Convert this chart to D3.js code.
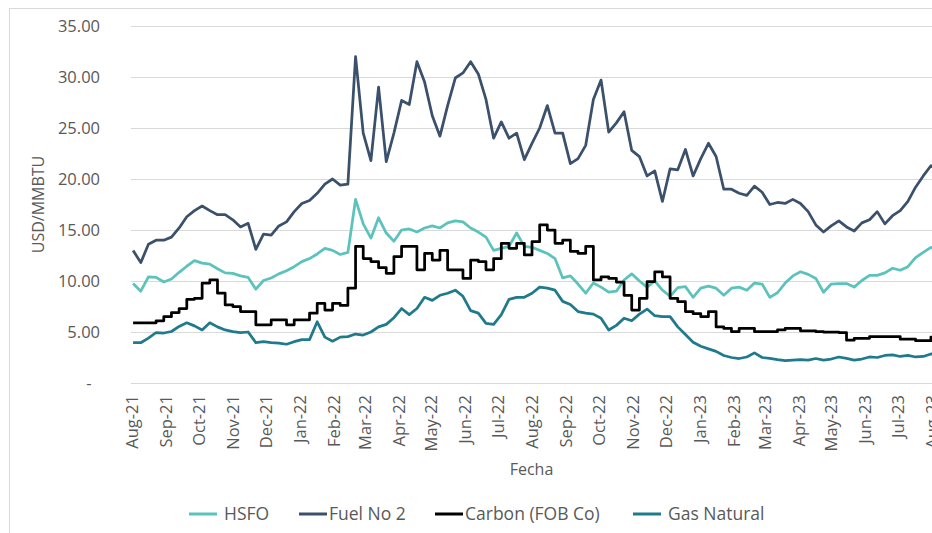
<!DOCTYPE html>
<html>
<head>
<meta charset="utf-8">
<script src="https://cdn.jsdelivr.net/npm/d3@7"></script>
<style>
    body { margin: 0; background: #fff; }
    text { font-family: "Open Sans", sans-serif; fill: #595959; }
</style>
</head>
<body>
<svg id="chart" width="932" height="533"></svg>
<script>
// weekly readings, first week starts Mon 2 Aug 2021
var firstWeek = new Date(2021, 7, 2);
var lastWeek = new Date(2023, 7, 7);

var hsfo = [
    9.75, 9.0, 10.4, 10.35, 9.9, 10.2, 10.85, 11.45, 12.0, 11.75,
    11.65, 11.2, 10.8, 10.75, 10.5, 10.35, 9.2, 10.05, 10.3, 10.7,
    11.0, 11.4, 11.9, 12.2, 12.65, 13.2, 13.0, 12.6, 12.8, 18.0,
    15.6, 14.2, 16.2, 14.7, 13.9, 15.0, 15.1, 14.8, 15.2, 15.4,
    15.2, 15.7, 15.9, 15.8, 15.2, 14.8, 14.3, 13.0, 13.2, 13.4,
    14.7, 13.4, 13.3, 13.0, 12.7, 12.2, 10.3, 10.5, 9.7, 8.8,
    9.8, 9.4, 8.9, 9.0, 10.1, 10.7, 10.0, 9.4, 10.0, 9.1,
    8.5, 9.35, 9.45, 8.4, 9.3, 9.5, 9.3, 8.6, 9.3, 9.4,
    9.1, 9.8, 9.7, 8.4, 8.85, 9.8, 10.5, 10.9, 10.65, 10.25,
    8.9, 9.7, 9.75, 9.75, 9.4, 10.05, 10.55, 10.55, 10.8, 11.25,
    11.05, 11.4, 12.3, 12.8, 13.3, 12.9
];
var fuelNo2 = [
    13.0, 11.8, 13.6, 14.0, 14.0, 14.3, 15.2, 16.3, 16.9, 17.35,
    16.9, 16.5, 16.5, 16.0, 15.3, 15.65, 13.1, 14.6, 14.5, 15.4,
    15.8, 16.8, 17.6, 17.9, 18.6, 19.5, 20.0, 19.4, 19.5, 32.0,
    24.5, 21.8, 29.0, 21.7, 24.5, 27.7, 27.3, 31.5, 29.5, 26.2,
    24.2, 27.2, 29.9, 30.4, 31.5, 30.3, 27.8, 24.0, 25.6, 24.0,
    24.5, 21.9, 23.5, 25.0, 27.2, 24.5, 24.5, 21.5, 22.0, 23.3,
    27.8, 29.7, 24.6, 25.5, 26.6, 22.8, 22.2, 20.3, 20.8, 17.8,
    21.0, 20.9, 22.9, 20.3, 22.0, 23.5, 22.2, 19.0, 19.0, 18.6,
    18.4, 19.3, 18.7, 17.5, 17.7, 17.6, 18.0, 17.6, 16.8, 15.5,
    14.8, 15.4, 15.9, 15.3, 14.9, 15.7, 16.0, 16.8, 15.6, 16.4,
    16.9, 17.8, 19.2, 20.3, 21.3, 20.9
];
var carbon = [
    5.9, 5.9, 5.9, 6.1, 6.5, 6.9, 7.3, 8.2, 8.3, 9.8,
    10.1, 8.8, 7.65, 7.5, 7.0, 7.0, 5.7, 5.7, 6.2, 6.2,
    5.7, 6.2, 6.2, 6.85, 7.8, 7.15, 7.8, 7.6, 9.3, 13.4,
    12.2, 11.9, 11.3, 10.75, 12.4, 13.4, 13.4, 11.1, 12.7, 12.05,
    13.0, 11.1, 11.1, 10.25, 12.05, 11.9, 11.1, 12.2, 13.7, 13.2,
    13.7, 12.55, 13.85, 15.5, 15.0, 13.7, 14.0, 12.9, 12.7, 13.4,
    10.1, 10.4, 10.25, 9.9, 8.6, 7.15, 8.3, 9.95, 10.9, 10.4,
    8.3, 7.97, 7.0, 6.8, 6.5, 7.0, 5.5, 5.35, 5.03, 5.36,
    5.36, 5.03, 5.03, 5.03, 5.2, 5.36, 5.36, 5.1, 5.1, 5.03,
    5.0, 5.0, 4.95, 4.2, 4.38, 4.38, 4.54, 4.54, 4.54, 4.54,
    4.3, 4.3, 4.15, 4.15, 4.5, 4.5
];
var gasNatural = [
    3.95, 3.95, 4.4, 4.95, 4.9, 5.05, 5.55, 5.9, 5.6, 5.2,
    5.9, 5.5, 5.2, 5.03, 4.95, 5.0, 3.95, 4.05, 3.95, 3.9,
    3.8, 4.05, 4.25, 4.25, 6.0, 4.5, 4.1, 4.5, 4.55, 4.8,
    4.7, 5.0, 5.5, 5.75, 6.4, 7.3, 6.7, 7.3, 8.4, 8.1,
    8.6, 8.8, 9.1, 8.5, 7.1, 6.85, 5.85, 5.75, 6.7, 8.2,
    8.4, 8.4, 8.8, 9.4, 9.3, 9.1, 8.0, 7.7, 7.0, 6.85,
    6.75, 6.35, 5.2, 5.65, 6.35, 6.1, 6.75, 7.25, 6.6, 6.5,
    6.5, 5.5, 4.75, 4.0, 3.6, 3.35, 3.1, 2.7, 2.5, 2.4,
    2.55, 2.95, 2.5, 2.42, 2.3, 2.2, 2.25, 2.3, 2.25, 2.4,
    2.25, 2.35, 2.55, 2.42, 2.25, 2.35, 2.55, 2.5, 2.7, 2.75,
    2.6, 2.7, 2.55, 2.6, 2.85, 2.8
];

var seriesNames = ["HSFO", "Fuel No 2", "Carbon (FOB Co)", "Gas Natural"];
var yTicks = [0, 5, 10, 15, 20, 25, 30, 35];

var colors = ["#5bc2bc", "#3a506b", "#000000", "#1f7a8c"];
var plotLeft = 131, plotRight = 932, plotTop = 26, plotBottom = 383;

var weeks = d3.timeMonday.range(firstWeek, d3.timeDay.offset(lastWeek, 1));
var months = d3.timeMonth.range(new Date(2021, 7, 1), new Date(2023, 7, 2));

var series = [hsfo, fuelNo2, carbon, gasNatural].map((vals, i) => {
    return {
        name: seriesNames[i],
        color: colors[i],
        step: i === 2,
        values: vals.map((v, j) => ({ date: weeks[j], value: v }))
    };
});

var svg = d3.select('#chart');

svg.append('rect')  // chart area border (runs off the picture right/bottom)
    .attr('x', 9.5).attr('y', 8.5)
    .attr('width', 960).attr('height', 560)
    .attr('fill', '#fff')
    .attr('stroke', '#d9d9d9');

var x = d3.scaleTime()
    .domain([new Date(2021, 7, 1), new Date(2023, 7, 1)])
    .range([plotLeft + 1, plotRight]);

var y = d3.scaleLinear()
    .domain([0, 35])
    .range([plotBottom, plotTop]);

// gridlines + y labels
var yAxis = svg.append('g')
    .attr('transform', 'translate(' + plotLeft + ',0)')
    .call(d3.axisLeft(y)
        .tickValues(yTicks)
        .tickSize(-(plotRight - plotLeft + 10))
        .tickPadding(31)
        .tickFormat(d => d === 0 ? '-' : d3.format('.2f')(d)));

yAxis.select('.domain').remove();
yAxis.selectAll('line').attr('stroke', '#d9d9d9');
yAxis.selectAll('text')
    .style('font-size', '16.5px')
    .attr('fill', '#595959')
    .attr('dx', d => d === 0 ? -8.5 : 0);

// x labels, rotated
var xAxis = svg.append('g')
    .attr('transform', 'translate(0,' + plotBottom + ')')
    .call(d3.axisBottom(x)
        .tickValues(months)
        .tickSize(0)
        .tickFormat(d3.timeFormat('%b-%y')));

xAxis.select('.domain').remove();
xAxis.selectAll('text')
    .style('font-size', '16.5px')
    .attr('fill', '#595959')
    .attr('text-anchor', 'end')
    .attr('transform', 'rotate(-90)')
    .attr('x', -12)
    .attr('y', 0)
    .attr('dy', '0.35em');

svg.append('clipPath')
    .attr('id', 'plot-clip')
    .append('rect')
    .attr('x', plotLeft).attr('y', 0)
    .attr('width', plotRight - plotLeft).attr('height', 533);

var line = d3.line()
    .x(d => x(d.date))
    .y(d => y(d.value));

svg.append('g')
    .attr('clip-path', 'url(#plot-clip)')
    .selectAll('path')
    .data(series)
    .enter()
    .append('path')
    .attr('d', d => line.curve(d.step ? d3.curveStepAfter : d3.curveLinear)(d.values))
    .attr('fill', 'none')
    .attr('stroke', d => d.color)
    .attr('stroke-width', 2.75)
    .attr('stroke-linejoin', 'round');

// axis titles
svg.append('text')
    .attr('transform', 'translate(44,' + ((plotTop + plotBottom) / 2) + ') rotate(-90)')
    .attr('text-anchor', 'middle')
    .style('font-size', '16px')
    .text('USD/MMBTU');

svg.append('text')
    .attr('x', (plotLeft + plotRight) / 2)
    .attr('y', 475)
    .attr('text-anchor', 'middle')
    .style('font-size', '16px')
    .text('Fecha');

// legend
var legendX = [189, 299, 435, 633];
var textGap = [7, 2, 2, 7];

var item = svg.append('g')
    .selectAll('g')
    .data(series)
    .enter()
    .append('g')
    .attr('transform', (d, i) => 'translate(' + legendX[i] + ',514)');

item.append('line')
    .attr('x1', 0).attr('x2', 28)
    .attr('stroke', d => d.color)
    .attr('stroke-width', 3);

item.append('text')
    .attr('x', (d, i) => 28 + textGap[i])
    .attr('dy', '0.35em')
    .style('font-size', '17.5px')
    .attr('fill', '#404040')
    .text(d => d.name);
</script>
</body>
</html>
